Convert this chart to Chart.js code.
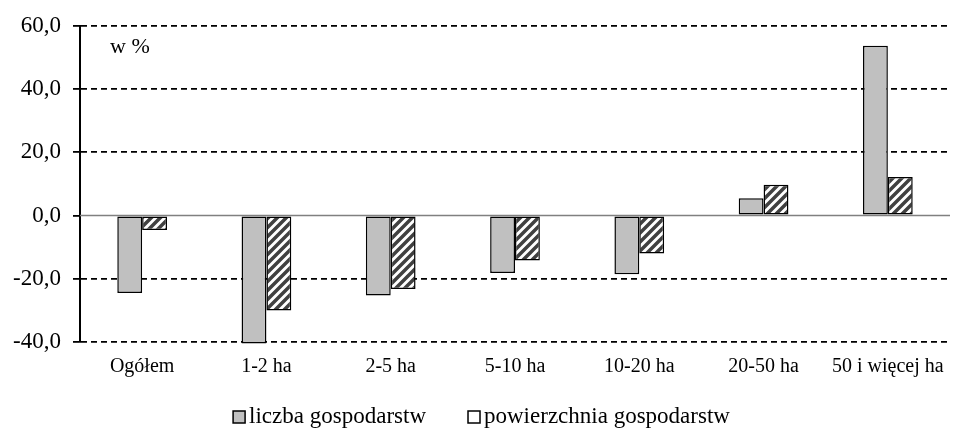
<!DOCTYPE html>
<html>
<head>
<meta charset="utf-8">
<script src="https://cdn.jsdelivr.net/npm/chart.js@4.4.0/dist/chart.umd.min.js"></script>
<style>
  html, body { margin: 0; padding: 0; background: #fff; }
  #wrap { width: 963px; height: 428px; position: relative; }
</style>
</head>
<body>
<div id="wrap"><canvas id="farmChart"></canvas></div>
<script>
const categories = ['Ogółem', '1-2 ha', '2-5 ha', '5-10 ha', '10-20 ha', '20-50 ha', '50 i więcej ha'];
const liczbaValues = [-24.5, -40.5, -25.3, -18.2, -18.6, 5.5, 53.7];
const powierzchniaValues = [-4.6, -30.0, -23.2, -14.2, -12.0, 9.7, 12.2];
const yTicks = [-40, -20, 0, 20, 40, 60];

// hatch pattern for the second series
function makeHatch() {
    const c = document.createElement('canvas');
    c.width = 9; c.height = 9;
    const g = c.getContext('2d');
    g.fillStyle = '#fff';
    g.fillRect(0, 0, 9, 9);
    g.strokeStyle = '#404040';
    g.lineWidth = 3.5;
    g.beginPath();
    g.moveTo(-2, 11); g.lineTo(11, -2);
    g.moveTo(-6, 6); g.lineTo(6, -6);
    g.moveTo(3, 15); g.lineTo(15, 3);
    g.stroke();
    return g.createPattern(c, 'repeat');
}
const hatch = makeHatch();

// zero line, "w %" label and the legend row
const extras = {
    id: 'extras',
    beforeDatasetsDraw(chart) {
        const {ctx, chartArea, scales: {y}} = chart;
        const y0 = y.getPixelForValue(0);
        ctx.save();
        ctx.strokeStyle = '#808080';
        ctx.lineWidth = 1.5;
        ctx.beginPath();
        ctx.moveTo(chartArea.left, y0);
        ctx.lineTo(chartArea.right, y0);
        ctx.stroke();
        ctx.restore();
    },
    afterDraw(chart) {
        const {ctx, chartArea, width, height} = chart;
        ctx.save();
        ctx.fillStyle = '#000';
        ctx.font = '22px "Liberation Serif"';
        ctx.textBaseline = 'middle';
        ctx.fillText('w %', chartArea.left + 30, chartArea.top + 21);

        // legend
        ctx.font = '23px "Liberation Serif"';
        ctx.textBaseline = 'alphabetic';
        const box = 12, gap = 4, spacing = 42;
        const items = chart.data.datasets.map(ds => ({
            text: ds.label,
            fill: ds.legendFill || ds.backgroundColor,
            w: box + gap + ctx.measureText(ds.label).width
        }));
        const total = items.reduce((s, it) => s + it.w, 0) + spacing * (items.length - 1);
        let x = (width - total) / 2;
        const base = height - 5;
        items.forEach(it => {
            ctx.fillStyle = it.fill;
            ctx.fillRect(x, base - box, box, box);
            ctx.strokeStyle = '#000';
            ctx.lineWidth = 1.5;
            ctx.strokeRect(x, base - box, box, box);
            ctx.fillStyle = '#000';
            ctx.fillText(it.text, x + box + gap, base);
            x += it.w + spacing;
        });
        ctx.restore();
    }
};

const ctx = document.getElementById('farmChart').getContext('2d');
const farmChart = new Chart(ctx, {
    type: 'bar',
    data: {
        labels: categories,
        datasets: [{
            label: 'liczba gospodarstw',
            data: liczbaValues,
            backgroundColor: '#c0c0c0',
            borderColor: '#000',
            borderWidth: 1.5,
            borderSkipped: false,
            clip: false
        }, {
            label: 'powierzchnia gospodarstw',
            data: powierzchniaValues,
            backgroundColor: hatch,
            legendFill: '#fff',
            borderColor: '#000',
            borderWidth: 1.5,
            borderSkipped: false,
            clip: false
        }]
    },
    options: {
        responsive: true,
        maintainAspectRatio: false,
        animation: false,
        layout: { padding: { top: 10, right: 13, bottom: 36, left: 0 } },
        datasets: { bar: { categoryPercentage: 0.4, barPercentage: 1 } },
        plugins: {
            tooltip: { enabled: false },
            legend: { display: false }
        },
        scales: {
            x: {
                grid: { display: false, drawTicks: false },
                border: { display: false },
                ticks: {
                    color: '#000',
                    font: { family: 'Liberation Serif', size: 20 },
                    padding: 13,
                    maxRotation: 0
                }
            },
            y: {
                min: -40,
                max: 60,
                afterFit(scale) { scale.width = 80; },
                afterBuildTicks(scale) { scale.ticks = yTicks.map(v => ({ value: v })); },
                grid: {
                    color: c => c.tick && c.tick.value === 0 ? 'rgba(0,0,0,0)' : '#000',
                    lineWidth: 1.8,
                    tickColor: '#000',
                    tickLength: 7,
                    drawTicks: true
                },
                border: { display: true, color: '#000', width: 2, dash: [6, 4] },
                ticks: {
                    color: '#000',
                    font: { family: 'Liberation Serif', size: 23 },
                    padding: 12,
                    callback: v => v.toFixed(1).replace('.', ',')
                }
            }
        }
    },
    plugins: [extras]
});
</script>
</body>
</html>
